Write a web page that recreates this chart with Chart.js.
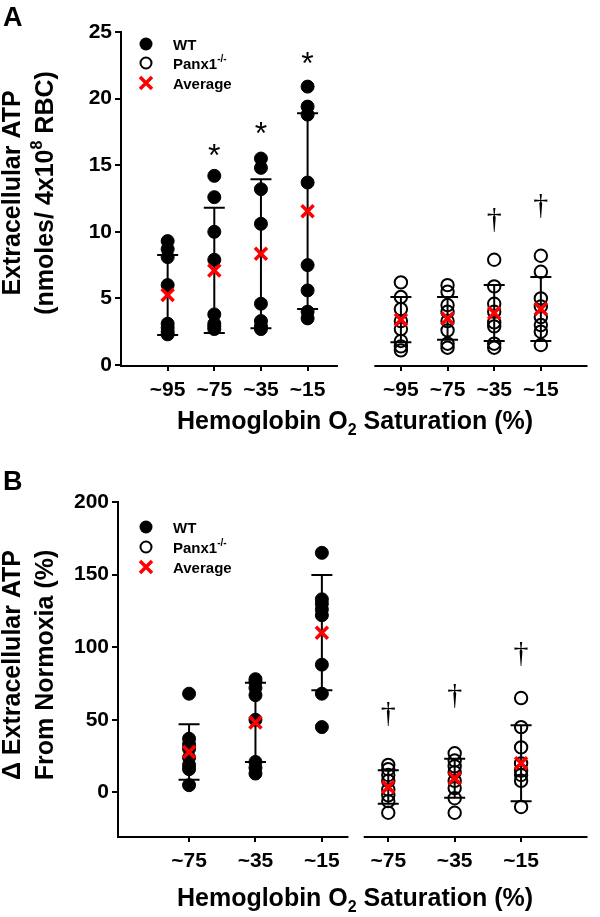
<!DOCTYPE html>
<html>
<head>
<meta charset="utf-8">
<script src="https://cdn.jsdelivr.net/npm/chart.js@4.4.1/dist/chart.umd.min.js"></script>
<style>
  html, body { margin: 0; padding: 0; background: #fff; }
  canvas { display: block; }
</style>
</head>
<body>
<canvas id="chartA" width="600" height="440"></canvas>
<canvas id="chartB" width="600" height="477"></canvas>
<script>
// ---- data ----
// Panel A: extracellular ATP (nmoles / 4x10^8 RBC)
const satLabelsA = ['~95', '~75', '~35', '~15'];
const wtA = [
    [9.3, 8.7, 8.1, 6.0, 3.1, 2.8, 2.5, 2.3],
    [14.2, 12.6, 10.0, 7.9, 3.8, 3.1, 2.9, 2.7],
    [15.5, 14.8, 13.2, 10.6, 4.6, 3.3, 2.9, 2.7],
    [20.9, 19.4, 18.8, 13.7, 7.5, 5.6, 4.0, 3.5]
];
const wtMeanA = [5.25, 7.1, 8.35, 11.55];
const wtSdA = [3.0, 4.7, 5.6, 7.35];
const koA = [
    [6.2, 5.1, 4.2, 3.3, 2.7, 1.8, 1.4, 1.1],
    [6.0, 5.5, 4.5, 4.0, 3.3, 2.6, 1.6, 1.3],
    [7.9, 5.9, 4.6, 4.0, 3.2, 2.9, 1.6, 1.3],
    [8.2, 7.0, 5.0, 4.4, 3.6, 3.0, 2.5, 1.5]
];
const koMeanA = [3.4, 3.5, 3.9, 4.2];
const koSdA = [1.7, 1.6, 2.1, 2.4];
const starA = [null, 16.35, 18.0, 23.25];     // * over WT groups
const daggerA = [null, null, 10.85, 11.95];   // dagger over Panx1-/- groups
const yTicksA = [0, 5, 10, 15, 20, 25];

// Panel B: change in extracellular ATP from normoxia (%)
const satLabelsB = ['~75', '~35', '~15'];
const wtB = [
    [68, 37, 33, 30, 24, 19, 16, 5],
    [78, 76, 72, 67, 50, 21, 17, 13],
    [165, 133, 130, 126, 122, 88, 68, 45]
];
const wtMeanB = [27.8, 48.2, 110];
const wtSdB = [19.1, 27.3, 39.7];
const koB = [
    [19, 16, 12, 8, 2, -2, -6, -14],
    [27, 22, 18, 14, 8, 3, -4, -14],
    [65, 45, 31, 20, 15, 12, 8, -10]
];
const koMeanB = [3.7, 9.75, 20.1];
const koSdB = [11.5, 13.45, 26.1];
const daggerB = [53.8, 66.5, 95.6];
const yTicksB = [0, 50, 100, 150, 200];

const FONT = '"Liberation Sans", Arial, sans-serif';
const SERIF = '"Liberation Serif", "Times New Roman", serif';

// draw a run of text pieces (for sub/superscripts)
function drawRich(ctx, parts, x, y, align) {
    let total = 0;
    parts.forEach(p => {
        ctx.font = `bold ${p.size}px ${FONT}`;
        p.w = ctx.measureText(p.t).width;
        total += p.w;
    });
    let cx = align === 'center' ? x - total / 2 : x;
    ctx.textAlign = 'left';
    ctx.textBaseline = 'alphabetic';
    parts.forEach(p => {
        ctx.font = `bold ${p.size}px ${FONT}`;
        ctx.fillText(p.t, cx, y + (p.dy || 0));
        cx += p.w;
    });
}

function drawX(ctx, x, y, r) {
    ctx.beginPath();
    ctx.moveTo(x - r, y - r); ctx.lineTo(x + r, y + r);
    ctx.moveTo(x - r, y + r); ctx.lineTo(x + r, y - r);
    ctx.stroke();
}

// broken x axis, titles, legend, significance marks
const decorPlugin = {
    id: 'decor',
    afterDraw(chart, args, o) {
        const { ctx, chartArea } = chart;
        const xs = chart.scales.x, ys = chart.scales.y;
        ctx.save();
        ctx.fillStyle = '#000';
        ctx.strokeStyle = '#000';
        ctx.lineWidth = 2;
        o.axisSegments.forEach(([a, b], i) => {
            ctx.beginPath();
            ctx.moveTo(xs.getPixelForValue(a) - (i === 0 ? 1 : 0), chartArea.bottom + 1);
            ctx.lineTo(xs.getPixelForValue(b), chartArea.bottom + 1);
            ctx.stroke();
        });

        // panel letter
        ctx.font = `bold 27px ${FONT}`;
        ctx.textAlign = 'left';
        ctx.textBaseline = 'alphabetic';
        ctx.fillText(o.letter, 3, o.letterY);

        // x title
        drawRich(ctx, [
            { t: 'Hemoglobin O', size: 25 },
            { t: '2', size: 16, dy: 6 },
            { t: ' Saturation (%)', size: 25 }
        ], 355, o.xTitleY, 'center');

        // y title (two rotated lines)
        o.yTitle.forEach((line, i) => {
            ctx.save();
            ctx.translate(o.yTitleX[i], o.yTitleMid);
            ctx.rotate(-Math.PI / 2);
            drawRich(ctx, line, 0, 0, 'center');
            ctx.restore();
        });

        // legend
        const lx = 146, tx = 173;
        const [l1, l2, l3] = o.legendY;
        ctx.beginPath(); ctx.arc(lx, l1, 6.5, 0, Math.PI * 2); ctx.fill();
        ctx.beginPath(); ctx.arc(lx, l2, 5.5, 0, Math.PI * 2); ctx.stroke();
        ctx.strokeStyle = '#ff0000'; ctx.lineWidth = 3.5;
        drawX(ctx, lx, l3, 6);
        ctx.fillStyle = '#000';
        drawRich(ctx, [{ t: 'WT', size: 15 }], tx, l1 + 5.5, 'left');
        drawRich(ctx, [{ t: 'Panx1', size: 15 }, { t: '-/-', size: 10, dy: -7 }], tx, l2 + 5.5, 'left');
        drawRich(ctx, [{ t: 'Average', size: 15 }], tx, l3 + 5.5, 'left');

        // significance marks
        ctx.textAlign = 'center';
        ctx.textBaseline = 'alphabetic';
        o.stars.forEach(m => {
            if (m.v == null) return;
            ctx.font = `32px ${FONT}`;
            ctx.fillText('*', xs.getPixelForValue(m.x), ys.getPixelForValue(m.v) + 19);
        });
        o.daggers.forEach(m => {
            if (m.v == null) return;
            ctx.font = `30px ${SERIF}`;
            ctx.fillText('\u2020', xs.getPixelForValue(m.x), ys.getPixelForValue(m.v) + 8);
        });
        ctx.restore();
    }
};

function groupPoints(groups, pos) {
    const out = [];
    groups.forEach((g, i) => g.forEach(v => out.push({ x: pos[i], y: v })));
    return out;
}

function buildDatasets(wt, wtMean, wtSd, ko, koMean, koSd, wtPos, koPos) {
    const pos = wtPos.concat(koPos);
    const means = wtMean.concat(koMean);
    const sds = wtSd.concat(koSd);
    const bars = [], caps = [], avg = [];
    means.forEach((m, i) => {
        bars.push({ x: pos[i], y: m - sds[i] }, { x: pos[i], y: m + sds[i] }, { x: pos[i], y: null });
        caps.push({ x: pos[i], y: m - sds[i] }, { x: pos[i], y: m + sds[i] });
        avg.push({ x: pos[i], y: m });
    });
    return [
        { label: 'Average', data: avg, order: 1, pointStyle: 'crossRot', pointRadius: 8.5,
          borderColor: '#ff0000', backgroundColor: '#ff0000', borderWidth: 3.5 },
        { label: 'caps', data: caps, order: 2, pointStyle: 'line', pointRadius: 10.5,
          borderColor: '#000', backgroundColor: '#000', borderWidth: 2 },
        { label: 'WT', data: groupPoints(wt, wtPos), order: 3, pointStyle: 'circle', pointRadius: 6.5,
          borderColor: '#000', backgroundColor: '#000', borderWidth: 1 },
        { label: 'Panx1-/-', data: groupPoints(ko, koPos), order: 3, pointStyle: 'circle', pointRadius: 6.2,
          borderColor: '#000', backgroundColor: 'rgba(0,0,0,0)', borderWidth: 2 },
        { label: 'SD', data: bars, order: 4, showLine: true, spanGaps: false, pointRadius: 0,
          borderColor: '#000', borderWidth: 2 }
    ];
}

function makeChart(id, cfg) {
    const tickPos = cfg.wtPos.concat(cfg.koPos);
    const tickText = cfg.labels.concat(cfg.labels);
    return new Chart(document.getElementById(id), {
        type: 'scatter',
        data: { datasets: buildDatasets(cfg.wt, cfg.wtMean, cfg.wtSd, cfg.ko, cfg.koMean, cfg.koSd, cfg.wtPos, cfg.koPos) },
        options: {
            responsive: false,
            animation: false,
            events: [],
            layout: { padding: { left: 0, right: 3, top: cfg.top, bottom: 0 } },
            scales: {
                x: {
                    type: 'linear', min: cfg.xMin, max: cfg.xMax,
                    border: { display: false },
                    grid: { drawOnChartArea: false, color: '#000', lineWidth: 2, tickLength: 6 },
                    afterBuildTicks: s => { s.ticks = tickPos.map(v => ({ value: v })); },
                    afterFit: s => { s.height = cfg.xAxisH; },
                    ticks: {
                        autoSkip: false, maxRotation: 0, padding: 7, color: '#000',
                        font: { family: FONT, size: 21, weight: 'bold' },
                        callback: (v, i) => tickText[i]
                    }
                },
                y: {
                    min: cfg.yMin, max: cfg.yMax,
                    border: { display: true, color: '#000', width: 2 },
                    grid: { drawOnChartArea: false, color: '#000', lineWidth: 2, tickLength: 6 },
                    afterBuildTicks: s => { s.ticks = cfg.yTicks.map(v => ({ value: v })); },
                    afterFit: s => { s.width = cfg.yAxisW; },
                    ticks: {
                        padding: 3, color: '#000',
                        font: { family: FONT, size: 21, weight: 'bold' }
                    }
                }
            },
            plugins: {
                legend: { display: false },
                tooltip: { enabled: false },
                decor: {
                    letter: cfg.letter, letterY: cfg.letterY,
                    axisSegments: cfg.segments,
                    xTitleY: cfg.xTitleY,
                    yTitle: cfg.yTitle, yTitleX: [20, 53], yTitleMid: cfg.yTitleMid,
                    legendY: cfg.legendY,
                    stars: cfg.stars, daggers: cfg.daggers
                }
            }
        },
        plugins: [decorPlugin]
    });
}

makeChart('chartA', {
    labels: satLabelsA, wtPos: [1, 2, 3, 4], koPos: [6, 7, 8, 9],
    wt: wtA, wtMean: wtMeanA, wtSd: wtSdA, ko: koA, koMean: koMeanA, koSd: koSdA,
    xMin: 0, xMax: 10, yMin: 0, yMax: 25, yTicks: yTicksA,
    top: 32, xAxisH: 75, yAxisW: 121,
    segments: [[0, 4.65], [5.43, 10]],
    letter: 'A', letterY: 26, xTitleY: 429,
    yTitle: [
        [{ t: 'Extracellular ATP', size: 25 }],
        [{ t: '(nmoles/ 4x10', size: 25 }, { t: '8', size: 16, dy: -11 }, { t: ' RBC)', size: 25 }]
    ],
    yTitleMid: 193,
    legendY: [44, 63, 83],
    stars: starA.map((v, i) => ({ x: i + 1, v })),
    daggers: daggerA.map((v, i) => ({ x: i + 6, v }))
});

makeChart('chartB', {
    labels: satLabelsB, wtPos: [1, 2, 3], koPos: [4, 5, 6],
    wt: wtB, wtMean: wtMeanB, wtSd: wtSdB, ko: koB, koMean: koMeanB, koSd: koSdB,
    xMin: -0.07, xMax: 7, yMin: -30, yMax: 200, yTicks: yTicksB,
    top: 62, xAxisH: 81, yAxisW: 118,
    segments: [[-0.07, 3.4], [3.63, 7]],
    letter: 'B', letterY: 50, xTitleY: 466,
    yTitle: [
        [{ t: '\u0394 Extracellular ATP', size: 25 }],
        [{ t: 'From Normoxia (%)', size: 25 }]
    ],
    yTitleMid: 225,
    legendY: [87, 107, 127],
    stars: [],
    daggers: daggerB.map((v, i) => ({ x: i + 4, v }))
});
</script>
</body>
</html>
